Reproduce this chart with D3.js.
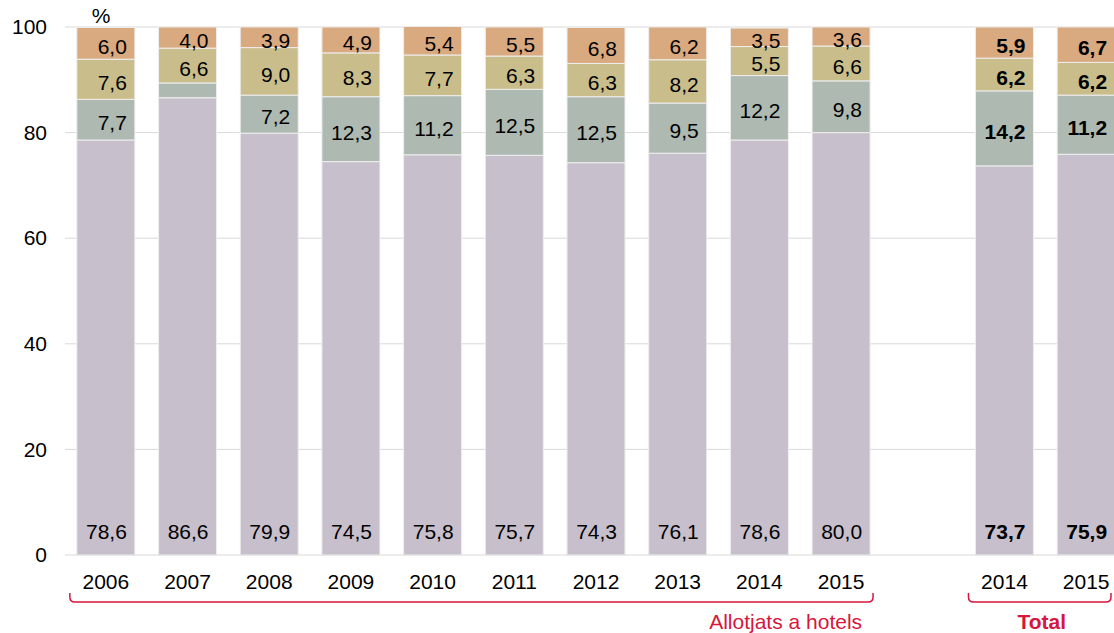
<!DOCTYPE html>
<html>
<head>
<meta charset="utf-8">
<script src="https://cdn.jsdelivr.net/npm/d3@7"></script>
<style>
  body { margin: 0; background: #fff; }
  text { font-family: "Liberation Sans", Arial, sans-serif; }
</style>
</head>
<body>
<svg id="chart" width="1114" height="633"></svg>
<script>
// categories (one empty slot between the two groups)
const categories = ["h2006", "h2007", "h2008", "h2009", "h2010", "h2011", "h2012", "h2013", "h2014", "h2015", "gap", "t2014", "t2015"];
const yearLabels = ["2006", "2007", "2008", "2009", "2010", "2011", "2012", "2013", "2014", "2015", "", "2014", "2015"];
const isTotal = [false, false, false, false, false, false, false, false, false, false, false, true, true];

// stacked series, bottom to top
const serie1 = [78.6, 86.6, 79.9, 74.5, 75.8, 75.7, 74.3, 76.1, 78.6, 80.0, null, 73.7, 75.9];
const serie2 = [7.7, 2.8, 7.2, 12.3, 11.2, 12.5, 12.5, 9.5, 12.2, 9.8, null, 14.2, 11.2];
const serie3 = [7.6, 6.6, 9.0, 8.3, 7.7, 6.3, 6.3, 8.2, 5.5, 6.6, null, 6.2, 6.2];
const serie4 = [6.0, 4.0, 3.9, 4.9, 5.4, 5.5, 6.8, 6.2, 3.5, 3.6, null, 5.9, 6.7];
const showLabel2 = [true, false, true, true, true, true, true, true, true, true, false, true, true];

const yTicks = [0, 20, 40, 60, 80, 100];
const groupLabels = [
  {text: "Allotjats a hotels", from: "h2006", to: "h2015", bold: false},
  {text: "Total", from: "t2014", to: "t2015", bold: true}
];

const colors = ["#c7bfcb", "#adb9b1", "#c9be8b", "#d9a97f"];
const red = "#d6163d";
const fs = 21;

const svg = d3.select("#chart");

const x = d3.scaleBand()
    .domain(categories)
    .range([65, 1127])
    .paddingInner(0.29)
    .paddingOuter(0.145);

const y = d3.scaleLinear().domain([0, 100]).range([555, 27]);

// gridlines
svg.append("g")
  .selectAll("line")
  .data(yTicks.filter(d => d > 0))
  .join("line")
    .attr("x1", 65).attr("x2", 1114)
    .attr("y1", d => y(d)).attr("y2", d => y(d))
    .attr("stroke", "#d9d9d9").attr("stroke-width", 1);

// y axis
const yAxis = svg.append("g")
    .attr("transform", "translate(65,0)")
    .call(d3.axisLeft(y).tickValues(yTicks).tickSize(0).tickPadding(18));
yAxis.select(".domain").remove();
yAxis.selectAll("text")
    .attr("font-size", fs)
    .attr("fill", "#000")
    .style("font-family", "Liberation Sans, Arial, sans-serif");

svg.append("text")
    .attr("x", 101).attr("y", 23)
    .attr("text-anchor", "middle")
    .attr("font-size", fs)
    .text("%");

// stack data
const rows = categories.map((c, i) => ({
  cat: c, i: i,
  s1: serie1[i] || 0, s2: serie2[i] || 0, s3: serie3[i] || 0, s4: serie4[i] || 0
}));
const keys = ["s1", "s2", "s3", "s4"];
const stacked = d3.stack().keys(keys)(rows.filter(r => r.cat !== "gap"));

const layers = svg.append("g")
  .selectAll("g")
  .data(stacked)
  .join("g")
    .attr("fill", (d, i) => colors[i]);

layers.selectAll("rect")
  .data(d => d)
  .join("rect")
    .attr("x", d => x(d.data.cat))
    .attr("width", x.bandwidth())
    .attr("y", d => y(d[1]))
    .attr("height", d => y(d[0]) - y(d[1]))
    .attr("stroke", "#eeeeee")
    .attr("stroke-width", 1);

// x axis line
svg.append("line")
    .attr("x1", 65).attr("x2", 1114)
    .attr("y1", y(0)).attr("y2", y(0))
    .attr("stroke", "#d9d9d9");

// value labels
const fmt = v => d3.format(".1f")(v).replace(".", ",");
const labelData = [];
stacked.forEach((layer, li) => {
  layer.forEach(d => {
    const i = d.data.i;
    if (li === 1 && !showLabel2[i]) return;
    const v = d[1] - d[0];
    const yy = li === 0 ? y(0) - 23 : y((d[0] + d[1]) / 2) + 3;
    labelData.push({x: x(d.data.cat) + x.bandwidth() / 2 + 21, y: yy, v: v, bold: isTotal[i]});
  });
});

svg.append("g")
  .selectAll("text")
  .data(labelData)
  .join("text")
    .attr("x", d => d.x)
    .attr("y", d => d.y)
    .attr("dy", "0.35em")
    .attr("text-anchor", "end")
    .attr("font-size", fs)
    .attr("font-weight", d => d.bold ? "bold" : "normal")
    .attr("fill", "#000")
    .text(d => fmt(d.v));

// year labels
svg.append("g")
  .selectAll("text")
  .data(categories.filter((c, i) => yearLabels[i] !== ""))
  .join("text")
    .attr("x", d => x(d) + x.bandwidth() / 2)
    .attr("y", 589)
    .attr("text-anchor", "middle")
    .attr("font-size", fs)
    .text(d => yearLabels[categories.indexOf(d)]);

// brackets
groupLabels.forEach(g => {
  const x0 = x(g.from) - 7;
  const x1 = Math.min(x(g.to) + x.bandwidth() + 3, 1111);
  const top = 593, bot = 602, r = 5;
  const p = d3.path();
  p.moveTo(x0, top);
  p.lineTo(x0, bot - r);
  p.quadraticCurveTo(x0, bot, x0 + r, bot);
  p.lineTo(x1 - r, bot);
  p.quadraticCurveTo(x1, bot, x1, bot - r);
  p.lineTo(x1, top);
  svg.append("path")
      .attr("d", p.toString())
      .attr("fill", "none")
      .attr("stroke", red)
      .attr("stroke-width", 1.5);
  svg.append("text")
      .attr("x", g.bold ? (x0 + x1) / 2 + 2 : x1 - 11)
      .attr("y", 629)
      .attr("text-anchor", g.bold ? "middle" : "end")
      .attr("font-size", fs)
      .attr("font-weight", g.bold ? "bold" : "normal")
      .attr("fill", red)
      .text(g.text);
});
</script>
</body>
</html>
